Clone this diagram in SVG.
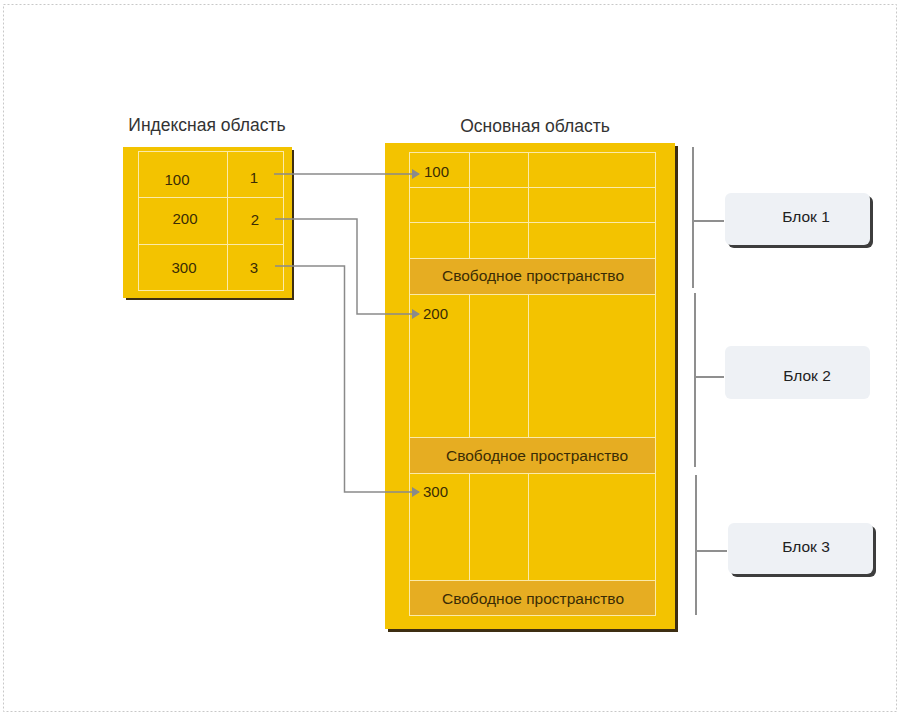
<svg xmlns="http://www.w3.org/2000/svg" width="901" height="716" viewBox="0 0 901 716">
<defs>
<style>
.t{font-family:"Liberation Sans",Arial,sans-serif;font-size:15px;fill:#3a2c05}
.f{font-family:"Liberation Sans",Arial,sans-serif;font-size:15.5px;fill:#3a2c05}
.h{font-family:"Liberation Sans",Arial,sans-serif;font-size:17.5px;fill:#333}
.b{font-family:"Liberation Sans",Arial,sans-serif;font-size:15.5px;fill:#222}
.yel{fill:#f3c300}
.sh{fill:#3d2e12}
.free{fill:#e6ad22}
.grid{stroke:#fbeaa8;stroke-width:1;fill:none}
.con{stroke:#8a8a8a;stroke-width:1.5;fill:none}
.bar{stroke:#8f8f8f;stroke-width:2;fill:none}
</style>
<marker id="arr" markerWidth="8" markerHeight="10" refX="7" refY="5" orient="auto" markerUnits="userSpaceOnUse">
<path d="M0,0 L8,5 L0,10 Z" fill="#8a8a8a"/>
</marker>
</defs>
<rect x="3.5" y="4.5" width="893" height="707" fill="#fff" stroke="#c8c8c8" stroke-width="1" stroke-dasharray="2,2"/>

<text class="h" x="207" y="131" text-anchor="middle">Индексная область</text>
<text class="h" x="535" y="132" text-anchor="middle">Основная область</text>

<g id="index">
<rect class="sh" x="126" y="150" width="168" height="150"/>
<rect class="yel" x="123" y="147" width="169" height="151"/>
<rect class="grid" x="138.5" y="151.5" width="145" height="139"/>
<line class="grid" x1="138.5" y1="197.5" x2="283.5" y2="197.5"/>
<line class="grid" x1="138.5" y1="244.5" x2="283.5" y2="244.5"/>
<line class="grid" x1="227.5" y1="151.5" x2="227.5" y2="290.5"/>
<text class="t" x="177" y="185" text-anchor="middle">100</text>
<text class="t" x="185" y="224" text-anchor="middle">200</text>
<text class="t" x="184" y="273" text-anchor="middle">300</text>
<text class="t" x="254" y="183" text-anchor="middle">1</text>
<text class="t" x="255" y="225" text-anchor="middle">2</text>
<text class="t" x="254" y="273" text-anchor="middle">3</text>
</g>

<g id="main">
<rect class="sh" x="388" y="146" width="290" height="486"/>
<rect class="yel" x="385" y="143" width="290" height="486"/>
<rect class="free" x="410" y="258" width="245" height="36"/>
<rect class="free" x="410" y="437" width="245" height="36"/>
<rect class="free" x="410" y="580" width="245" height="36"/>
<rect class="grid" x="409.5" y="152.5" width="246" height="463"/>
<line class="grid" x1="409.5" y1="187.5" x2="655.5" y2="187.5"/>
<line class="grid" x1="409.5" y1="222.5" x2="655.5" y2="222.5"/>
<line class="grid" x1="409.5" y1="258.5" x2="655.5" y2="258.5"/>
<line class="grid" x1="409.5" y1="294.5" x2="655.5" y2="294.5"/>
<line class="grid" x1="409.5" y1="437.5" x2="655.5" y2="437.5"/>
<line class="grid" x1="409.5" y1="473.5" x2="655.5" y2="473.5"/>
<line class="grid" x1="409.5" y1="580.5" x2="655.5" y2="580.5"/>
<line class="grid" x1="469.5" y1="152.5" x2="469.5" y2="258.5"/>
<line class="grid" x1="528.5" y1="152.5" x2="528.5" y2="258.5"/>
<line class="grid" x1="469.5" y1="294.5" x2="469.5" y2="437.5"/>
<line class="grid" x1="528.5" y1="294.5" x2="528.5" y2="437.5"/>
<line class="grid" x1="469.5" y1="473.5" x2="469.5" y2="580.5"/>
<line class="grid" x1="528.5" y1="473.5" x2="528.5" y2="580.5"/>
<text class="t" x="424" y="177">100</text>
<text class="t" x="423" y="319">200</text>
<text class="t" x="423" y="497">300</text>
<text class="f" x="533" y="281" text-anchor="middle">Свободное пространство</text>
<text class="f" x="537" y="461" text-anchor="middle">Свободное пространство</text>
<text class="f" x="533" y="604" text-anchor="middle">Свободное пространство</text>
</g>

<g id="block1">
<rect x="728" y="196" width="145" height="52" rx="6" fill="#3d3d3d"/>
<rect x="725" y="193" width="145" height="52" rx="6" fill="#eef1f5"/>
<text class="b" x="806" y="222" text-anchor="middle">Блок 1</text>
</g>
<g id="block2">
<rect x="725" y="346" width="145" height="53" rx="6" fill="#eef1f5"/>
<text class="b" x="807" y="381" text-anchor="middle">Блок 2</text>
</g>
<g id="block3">
<rect x="731" y="526" width="145" height="51" rx="6" fill="#3d3d3d"/>
<rect x="728" y="523" width="145" height="51" rx="6" fill="#eef1f5"/>
<text class="b" x="806" y="552" text-anchor="middle">Блок 3</text>
</g>

<g id="connectors">
<path class="con" d="M274,174 H419" marker-end="url(#arr)"/>
<path class="con" d="M275,219 H357 V314 H419" marker-end="url(#arr)"/>
<path class="con" d="M275,266 H344.5 V492 H419" marker-end="url(#arr)"/>
<path class="bar" d="M693,147 V288 M693,221 H724"/>
<path class="bar" d="M695,293 V467 M695,377 H724"/>
<path class="bar" d="M696,475 V615 M696,551 H727"/>
</g>
</svg>
